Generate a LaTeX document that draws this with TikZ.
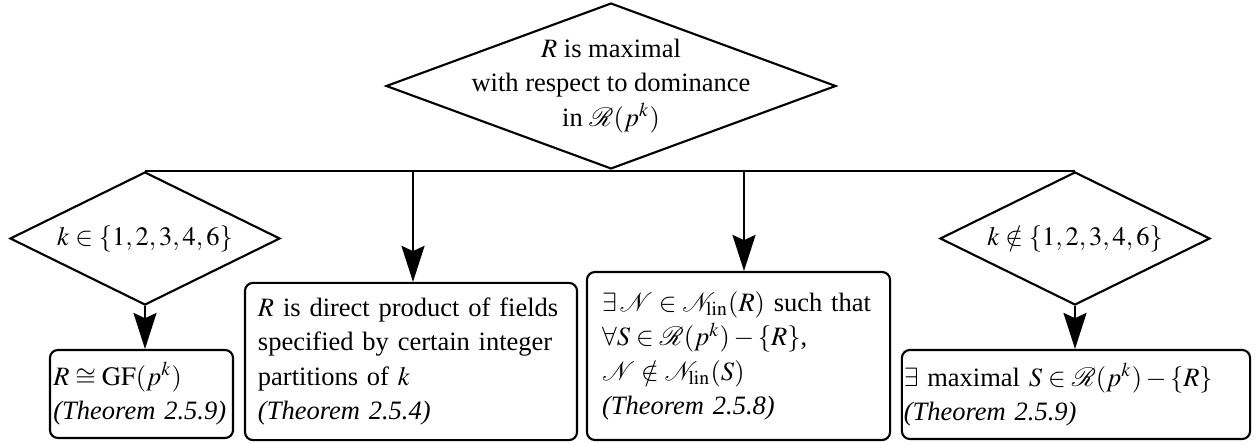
\documentclass[tikz,border=0pt]{standalone}
\usepackage{mathptmx}
\usepackage{mathrsfs}
\usepackage{fontspec}
\setmainfont{Liberation Serif}
\usetikzlibrary{shapes.geometric,arrows.meta}
\begin{document}
\begin{tikzpicture}[x=0.3774pt,y=-0.3774pt, line width=0.8pt,
  every node/.append style={font=\fontsize{10}{13}\selectfont},
  dia/.style={draw, diamond, inner sep=0pt, line width=0.8pt},
  box/.style={draw, rectangle, rounded corners=3pt, align=left, inner ysep=0pt, line width=0.8pt},
  arr/.style={-{Stealth[length=13.6pt,width=8.7pt,inset=2pt]}}]
\useasboundingbox (0,0) rectangle (1260,443);

\node[dia, minimum width=169.8pt, minimum height=62.6pt,
  label={[align=center]center:{$R$ is maximal\\with respect to dominance\\in $\mathscr{R}(p^k)$}}] (top) at (611,86) {};

\node[dia, minimum width=101.9pt, minimum height=50.2pt,
  label={center:{$k\in\{1,2,3,4,6\}$}}] (L) at (145,238.5) {};
\node[dia, minimum width=101.9pt, minimum height=50.2pt,
  label={center:{$k\notin\{1,2,3,4,6\}$}}] (Rr) at (1075,238.5) {};

\node[box, text width=66.5pt, inner xsep=1.3pt, minimum height=33.2pt] (b1) at (141.5,394)
  {$R\cong\mathrm{GF}(p^k)$\\\textit{(Theorem 2.5.9)}};
\node[box, text width=115.5pt, inner xsep=4.9pt, minimum height=59.3pt] (b2) at (411,361.5)
  {$R$ is direct product of fields\\specified by certain integer\\partitions of $k$\\\textit{(Theorem 2.5.4)}};
\node[box, text width=103pt, inner xsep=5.7pt, minimum height=63.4pt] (b3) at (738.5,356)
  {$\exists\,\mathcal{N}\in\mathcal{N}_{\mathrm{lin}}(R)$ such that\\$\forall S\in\mathscr{R}(p^k)-\{R\}$,\\$\mathcal{N}\notin\mathcal{N}_{\mathrm{lin}}(S)$\\\textit{(Theorem 2.5.8)}};
\node[box, text width=130pt, inner xsep=0.7pt, minimum height=33.6pt] (b4) at (1076,394.5)
  {$\exists$ maximal $S\in\mathscr{R}(p^k)-\{R\}$\\\textit{(Theorem 2.5.9)}};

\coordinate (j2) at (413,171);
\coordinate (j3) at (744,171);
\draw (L.north) -- (Rr.north);
\draw (top.south) -- (top.south |- L.north);
\draw[arr] (L.south) -- (L.south |- b1.north);
\draw[arr] (Rr.south) -- (Rr.south |- b4.north);
\draw[arr] (j2) -- (j2 |- b2.north);
\draw[arr] (j3) -- (j3 |- b3.north);
\end{tikzpicture}
\end{document}
